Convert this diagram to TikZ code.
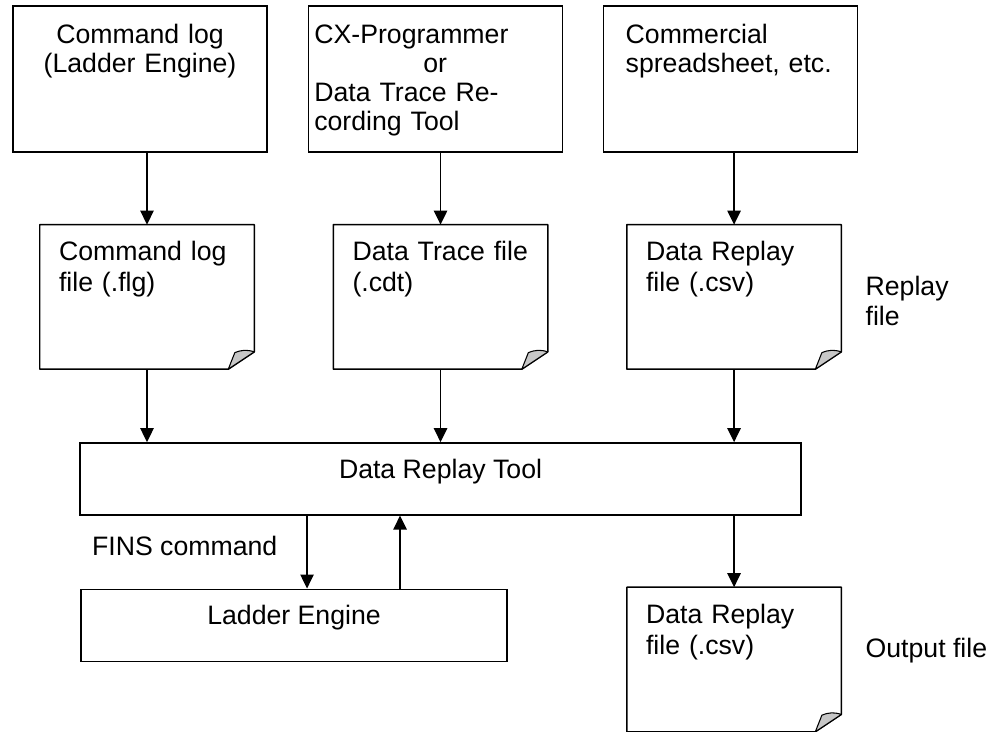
\documentclass[tikz,border=0pt]{standalone}
\usepackage{fontspec}
\setmainfont{Liberation Sans}
\usepackage{tikz}
\usetikzlibrary{arrows.meta, positioning}

% outline of a file symbol with its curled corner
\newcommand\pagecurl[1]{%
  \draw[line width=1.1pt, line join=round]
    (#1.south west) -- (#1.north west) -- (#1.north east)
    -- ([yshift=13pt]#1.south east) -- ([xshift=-19.5pt]#1.south east) -- cycle;
  \draw[line width=0.8pt, line join=round, fill=black!22]
    ([xshift=-19.5pt]#1.south east) -- ([yshift=13pt]#1.south east)
    to[bend right=20] ([xshift=-14.6pt, yshift=12.4pt]#1.south east) -- cycle;
}

\begin{document}
\begin{tikzpicture}[
  x=0.75pt, y=-0.75pt,
  srcbox/.style = {rectangle, draw, line width=1pt,
                   inner xsep=4.5pt, inner ysep=0pt, text width=181.5pt,
                   text height=28.5pt, text depth=81pt,
                   font=\fontsize{20pt}{21.75pt}\selectfont},
  docbox/.style = {rectangle, inner xsep=14.25pt, inner ysep=0pt,
                   text width=132pt, text height=27pt, text depth=81pt,
                   align=left, font=\fontsize{20pt}{23.25pt}\selectfont},
  toolbox/.style = {rectangle, draw, line width=1pt, inner ysep=0pt,
                    text height=26.6pt, text depth=27.4pt,
                    font=\fontsize{20pt}{23.25pt}\selectfont},
  sidenote/.style = {inner sep=0pt, align=left,
                     font=\fontsize{20pt}{22.5pt}\selectfont},
  arr/.style = {-{Triangle[length=10.5pt, width=10pt]}, line width=1.1pt},
]
\useasboundingbox (0,0) rectangle (998,731);

% sources
\node[srcbox, align=center] (cmdlog) at (140,79) {Command log\\(Ladder Engine)};
\node[srcbox, align=left, right=30pt of cmdlog] (cxprog)
  {CX-Programmer\\\hspace*{81.75pt}or\\Data Trace Re-\\cording Tool};
\node[srcbox, align=left, inner xsep=16.5pt, text width=157.5pt,
      right=30pt of cxprog] (sheet) {Commercial\\spreadsheet, etc.};

% replay files
\node[docbox, below=54pt of cmdlog, xshift=5.25pt] (flgfile) {Command log\\file (.flg)};
\node[docbox, right=59.25pt of flgfile] (cdtfile) {Data Trace file\\(.cdt)};
\node[docbox, right=59.25pt of cdtfile] (csvfile) {Data Replay\\file (.csv)};
\node[sidenote, right=18pt of csvfile, yshift=-3pt] (replaynote) {Replay\\file};

% tool and engine
\node[toolbox, minimum width=540.75pt, below=54.75pt of cdtfile] (replay) {Data Replay Tool};
\node[toolbox, minimum width=319.5pt,
      below right=54.75pt and 0.75pt of replay.south west] (ladder) {Ladder Engine};
\node[docbox, below=163.5pt of csvfile] (outcsv) {Data Replay\\file (.csv)};
\node[sidenote, right=18pt of outcsv, yshift=6.75pt] (outnote) {Output file};

\pagecurl{flgfile}
\pagecurl{cdtfile}
\pagecurl{csvfile}
\pagecurl{outcsv}

\coordinate (fins) at ([xshift=9.75pt]ladder.north);
\coordinate (back) at ([xshift=79.5pt]ladder.north);

\draw[arr] (cmdlog.south -| flgfile) -- (flgfile.north);
\draw[arr] (cxprog.south -| cdtfile) -- (cdtfile.north);
\draw[arr] (sheet.south -| csvfile)  -- (csvfile.north);
\draw[arr] (flgfile.south) -- (flgfile |- replay.north);
\draw[arr] (cdtfile.south) -- (cdtfile |- replay.north);
\draw[arr] (csvfile.south) -- (csvfile |- replay.north);
\draw[arr] (fins |- replay.south) -- node[sidenote, pos=0.41, left=21.75pt]{FINS command} (fins);
\draw[arr] (back) -- (back |- replay.south);
\draw[arr] (outcsv |- replay.south) -- (outcsv.north);

\end{tikzpicture}
\end{document}
